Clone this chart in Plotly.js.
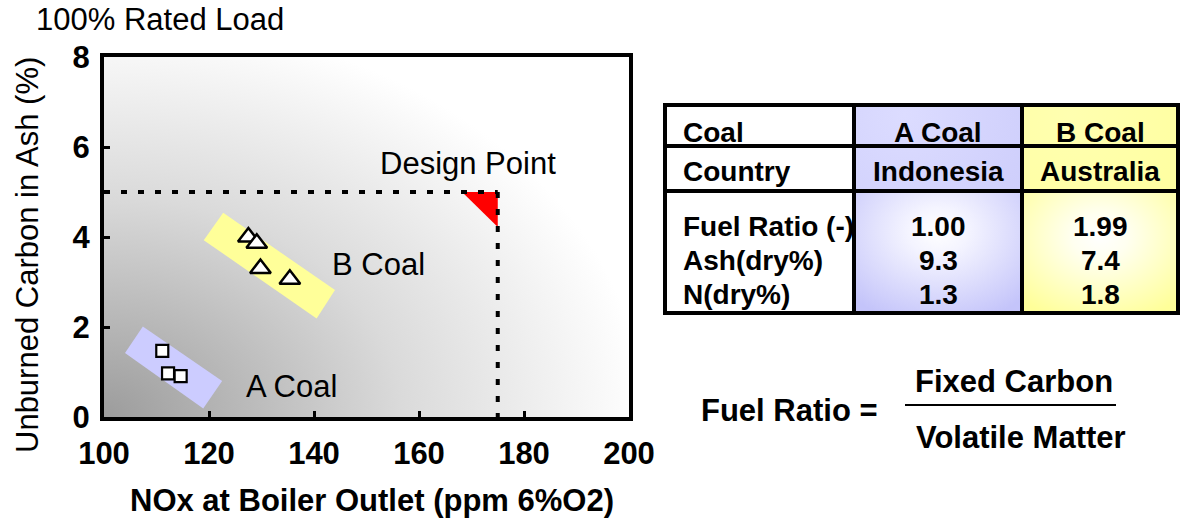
<!DOCTYPE html>
<html><head><meta charset="utf-8">
<script src="https://cdn.plot.ly/plotly-3.0.1.min.js"></script>
<style>html,body{margin:0;padding:0;background:#fff}</style>
</head><body><div id="chart" style="width:1188px;height:523px"></div>
<script>
// ---- data ----
const aCoalNOx = [111.1, 112.2, 114.6];
const aCoalUBC = [1.47, 0.97, 0.91];
const bCoalNOx = [127.5, 129.1, 129.8, 135.4];
const bCoalUBC = [4.0, 3.86, 3.30, 3.06];
const designNOx = 175;
const designUBC = 5;
const xTicks = [100, 120, 140, 160, 180, 200];
const yTicks = [0, 2, 4, 6, 8];
const aBandX = [107.4, 104.0, 118.9, 122.5];
const aBandY = [2.01, 1.42, 0.19, 0.80];
const bBandX = [122.7, 119.0, 140.5, 144.0];
const bBandY = [4.54, 3.93, 2.19, 2.82];
const designMarkX = [168.2, 175, 175];
const designMarkY = [5, 5, 4.22];
const tableHeader = ['Coal', 'A Coal', 'B Coal'];
const tableCountry = ['Country', 'Indonesia', 'Australia'];
const propLabels = ['Fuel Ratio (-)', 'Ash(dry%)', 'N(dry%)'];
const aCoalProps = ['1.00', '9.3', '1.3'];
const bCoalProps = ['1.99', '7.4', '1.8'];

// ---- helpers ----
const W = 1188, H = 523;
const px = v => v / W;
const py = v => 1 - v / H;
const FONT = 'Liberation Sans, Arial, sans-serif';

function radialImg(w, h, cx, cy, rx, ry, stops) {
  const c = document.createElement('canvas');
  c.width = w; c.height = h;
  const g = c.getContext('2d');
  g.fillStyle = stops[stops.length - 1][1];
  g.fillRect(0, 0, w, h);
  g.save();
  g.translate(cx, cy);
  g.scale(rx / ry, 1);
  const gr = g.createRadialGradient(0, 0, 0, 0, 0, ry);
  stops.forEach(s => gr.addColorStop(s[0], s[1]));
  g.fillStyle = gr;
  g.fillRect(-cx * ry / rx - 5, -cy - 5, w * ry / rx + 10, h + 10);
  g.restore();
  return c.toDataURL();
}
function polyPath(xs, ys) {
  return 'M ' + xs.map((x, i) => x + ',' + ys[i]).join(' L ') + ' Z';
}

// ---- traces ----
const traces = [
  {x: aCoalNOx, y: aCoalUBC, type: 'scatter', mode: 'markers', name: 'A Coal',
   marker: {symbol: 'square', size: 12, color: '#ffffff', line: {color: '#000', width: 2.2}}},
  {x: bCoalNOx, y: bCoalUBC, type: 'scatter', mode: 'markers', name: 'B Coal',
   marker: {symbol: 'triangle-up', size: 18, color: '#ffffff', line: {color: '#000', width: 2.5}}}
];

// ---- shapes ----
const shapes = [
  {type: 'path', xref: 'x', yref: 'y', path: polyPath(aBandX, aBandY), fillcolor: '#ccccff', line: {width: 0}, layer: 'below'},
  {type: 'path', xref: 'x', yref: 'y', path: polyPath(bBandX, bBandY), fillcolor: '#ffff99', line: {width: 0}, layer: 'below'},
  {type: 'path', xref: 'x', yref: 'y', path: polyPath(designMarkX, designMarkY), fillcolor: '#ff0000', line: {width: 0}},
  {type: 'line', xref: 'x', yref: 'y', x0: 100, x1: designNOx, y0: designUBC, y1: designUBC, line: {color: '#000', width: 4, dash: '6px,11px'}},
  {type: 'line', xref: 'x', yref: 'y', x0: designNOx, x1: designNOx, y0: designUBC, y1: 0, line: {color: '#000', width: 4, dash: '6px,11px'}}
];

// table grid
const colEdges = [665, 854, 1022, 1178];
const rowEdges = [105, 146, 191, 313];
const images = [];
images.push({source: radialImg(525, 360, 0, 360, 540, 400, [[0, '#9c9c9c'], [0.55, '#dadada'], [1, '#ffffff']]),
  xref: 'paper', yref: 'paper', x: px(104), y: py(57), sizex: px(525), sizey: 360 / H, xanchor: 'left', yanchor: 'top', sizing: 'stretch', layer: 'below'});
// A column cells
const cw1 = colEdges[2] - colEdges[1], cw2 = colEdges[3] - colEdges[2];
images.push({source: radialImg(cw1, rowEdges[2] - rowEdges[0], cw1 * 0.3, 10, 200, 200, [[0, '#dcdcff'], [1, '#c8c8fa']]),
  xref: 'paper', yref: 'paper', x: px(colEdges[1]), y: py(rowEdges[0]), sizex: px(cw1), sizey: (rowEdges[2] - rowEdges[0]) / H, xanchor: 'left', yanchor: 'top', sizing: 'stretch', layer: 'below'});
images.push({source: radialImg(cw1, rowEdges[3] - rowEdges[2], cw1 * 0.5, 40, 120, 95, [[0, '#ffffff'], [0.25, '#f4f4ff'], [1, '#c4c4fa']]),
  xref: 'paper', yref: 'paper', x: px(colEdges[1]), y: py(rowEdges[2]), sizex: px(cw1), sizey: (rowEdges[3] - rowEdges[2]) / H, xanchor: 'left', yanchor: 'top', sizing: 'stretch', layer: 'below'});
images.push({source: radialImg(cw2, rowEdges[2] - rowEdges[0], cw2 * 0.3, 10, 200, 200, [[0, '#ffffb0'], [1, '#ffff99']]),
  xref: 'paper', yref: 'paper', x: px(colEdges[2]), y: py(rowEdges[0]), sizex: px(cw2), sizey: (rowEdges[2] - rowEdges[0]) / H, xanchor: 'left', yanchor: 'top', sizing: 'stretch', layer: 'below'});
images.push({source: radialImg(cw2, rowEdges[3] - rowEdges[2], cw2 * 0.5, 45, 110, 90, [[0, '#ffffff'], [0.25, '#fffff0'], [1, '#ffff99']]),
  xref: 'paper', yref: 'paper', x: px(colEdges[2]), y: py(rowEdges[2]), sizex: px(cw2), sizey: (rowEdges[3] - rowEdges[2]) / H, xanchor: 'left', yanchor: 'top', sizing: 'stretch', layer: 'below'});

const tl = {color: '#000', width: 4};
shapes.push({type: 'rect', xref: 'paper', yref: 'paper', x0: px(colEdges[0]), x1: px(colEdges[3]), y0: py(rowEdges[0]), y1: py(rowEdges[3]), line: tl});
[rowEdges[1], rowEdges[2]].forEach(r => shapes.push({type: 'line', xref: 'paper', yref: 'paper', x0: px(colEdges[0]), x1: px(colEdges[3]), y0: py(r), y1: py(r), line: tl}));
[colEdges[1], colEdges[2]].forEach(c => shapes.push({type: 'line', xref: 'paper', yref: 'paper', x0: px(c), x1: px(c), y0: py(rowEdges[0]), y1: py(rowEdges[3]), line: tl}));
// fraction bar
shapes.push({type: 'line', xref: 'paper', yref: 'paper', x0: px(905), x1: px(1116), y0: py(405), y1: py(405), line: {color: '#000', width: 2}});

// ---- annotations ----
const ann = [];
function txt(text, x, y, size, bold, opts) {
  ann.push(Object.assign({xref: 'paper', yref: 'paper', x: px(x), y: py(y), text: bold ? '<b>' + text + '</b>' : text,
    showarrow: false, xanchor: 'center', yanchor: 'middle', font: {family: FONT, size: size, color: '#000'}}, opts || {}));
}
txt('100% Rated Load', 160, 20, 31, false);
txt('Unburned Carbon in Ash (%)', 27, 255, 31, false, {textangle: -90});
txt('NOx at Boiler Outlet (ppm 6%O2)', 372, 500, 31, true);
txt('Design Point', 468, 163, 31, false);
txt('B Coal', 378, 264, 31, false);
txt('A Coal', 291, 386, 31, false);
// table text
const labX = 681;
const colC = [(colEdges[1] + colEdges[2]) / 2, (colEdges[2] + colEdges[3]) / 2];
const rowY = [132, 171];
[tableHeader, tableCountry].forEach((row, i) => {
  txt(row[0], labX, rowY[i], 28, true, {xanchor: 'left'});
  txt(row[1], colC[0], rowY[i], 28, true);
  txt(row[2], colC[1], rowY[i], 28, true);
});
const propY = [227, 260, 294];
propLabels.forEach((l, i) => {
  txt(l, labX, propY[i], 28, true, {xanchor: 'left'});
  txt(aCoalProps[i], colC[0], propY[i], 28, true);
  txt(bCoalProps[i], colC[1], propY[i], 28, true);
});
txt('Fuel Ratio =', 789, 410, 31, true);
txt('Fixed Carbon', 1014, 381, 31, true);
txt('Volatile Matter', 1021, 437, 31, true);

const layout = {
  width: W, height: H, autosize: false,
  margin: {l: 0, r: 0, t: 0, b: 0},
  paper_bgcolor: '#ffffff', plot_bgcolor: 'rgba(0,0,0,0)',
  showlegend: false,
  xaxis: {domain: [104 / W, 629 / W], range: [100, 200], tickvals: xTicks, ticktext: xTicks.map(String),
    showline: true, linewidth: 4, linecolor: '#000', mirror: true, ticks: 'inside', ticklen: 6, tickwidth: 3, tickcolor: '#000',
    showgrid: false, zeroline: false, ticklabelstandoff: 6,
    tickfont: {family: FONT, size: 31, color: '#000', weight: 'bold'}},
  yaxis: {domain: [1 - 417 / H, 1 - 57 / H], range: [0, 8], tickvals: yTicks, ticktext: yTicks.map(String),
    showline: true, linewidth: 4, linecolor: '#000', mirror: true, ticks: 'inside', ticklen: 6, tickwidth: 3, tickcolor: '#000',
    showgrid: false, zeroline: false, ticklabelstandoff: 4,
    tickfont: {family: FONT, size: 31, color: '#000', weight: 'bold'}},
  shapes: shapes, annotations: ann, images: images
};
Plotly.newPlot('chart', traces, layout, {staticPlot: true, displayModeBar: false});
</script></body></html>
